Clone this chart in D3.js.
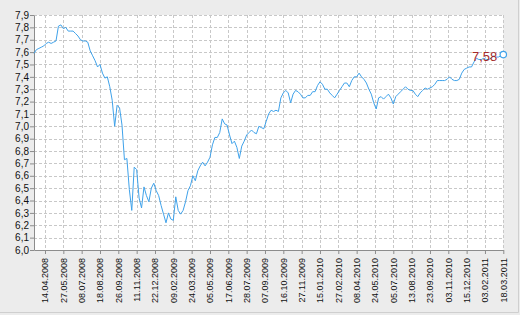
<!DOCTYPE html>
<html>
<head>
<meta charset="utf-8">
<script src="https://cdn.jsdelivr.net/npm/d3@7/dist/d3.min.js"></script>
<style>
	body { margin: 0; background: #ececec; }
	svg { display: block; font-family: "DejaVu Sans", sans-serif; }
</style>
</head>
<body>
<svg id="chart" width="520" height="315"></svg>
<script>
// trading days between two samples of the series
const sampleStep = 4;

// rate, one reading every 4 trading days (first one ~18.03.2008)
const rates = [
	7.59, 7.62, 7.63, 7.64, 7.65, 7.67, 7.68, 7.67, 7.68, 7.69,
	7.81, 7.82, 7.79, 7.80, 7.77, 7.77, 7.77, 7.75, 7.73, 7.70,
	7.69, 7.69, 7.68, 7.61, 7.57, 7.53, 7.48, 7.50, 7.43, 7.39,
	7.40, 7.32, 7.21, 7.00, 7.17, 7.15, 7.01, 6.73, 6.74, 6.49,
	6.32, 6.67, 6.65, 6.42, 6.34, 6.51, 6.44, 6.39, 6.50, 6.54,
	6.48, 6.44, 6.36, 6.29, 6.22, 6.30, 6.25, 6.24, 6.43, 6.32,
	6.29, 6.32, 6.39, 6.48, 6.52, 6.60, 6.56, 6.64, 6.68, 6.71,
	6.68, 6.71, 6.75, 6.85, 6.91, 6.91, 6.95, 7.06, 7.02, 7.01,
	6.93, 6.86, 6.88, 6.83, 6.74, 6.84, 6.88, 6.93, 6.95, 6.97,
	6.95, 6.94, 7.00, 6.99, 6.98, 7.04, 7.10, 7.13, 7.12, 7.13,
	7.12, 7.23, 7.27, 7.29, 7.27, 7.19, 7.26, 7.29, 7.28, 7.26,
	7.23, 7.23, 7.25, 7.25, 7.28, 7.28, 7.33, 7.36, 7.34, 7.30,
	7.30, 7.27, 7.25, 7.23, 7.26, 7.29, 7.32, 7.35, 7.35, 7.32,
	7.37, 7.40, 7.40, 7.43, 7.40, 7.38, 7.35, 7.30, 7.26, 7.19,
	7.14, 7.23, 7.24, 7.22, 7.24, 7.26, 7.23, 7.18, 7.24, 7.26,
	7.28, 7.30, 7.32, 7.30, 7.29, 7.29, 7.26, 7.24, 7.27, 7.29,
	7.31, 7.30, 7.31, 7.32, 7.34, 7.37, 7.37, 7.37, 7.37, 7.38,
	7.40, 7.38, 7.37, 7.37, 7.38, 7.43, 7.46, 7.47, 7.48, 7.48,
	7.52, 7.55, 7.54, 7.54, 7.55, 7.54, 7.54, 7.55, 7.57, 7.56,
	7.56, 7.57, 7.58
];

const tickLabels = [
	"14.04.2008", "27.05.2008", "08.07.2008", "18.08.2008", "26.09.2008", "11.11.2008",
	"22.12.2008", "09.02.2009", "24.03.2009", "05.05.2009", "17.06.2009", "28.07.2009",
	"07.09.2009", "16.10.2009", "27.11.2009", "15.01.2010", "27.02.2010", "08.04.2010",
	"24.05.2010", "05.07.2010", "13.08.2010", "23.09.2010", "03.11.2010", "15.12.2010",
	"03.02.2011", "18.03.2011"
];
// trading-day index of each tick label
const tickDays = [18, 48, 78, 108, 138, 168, 198, 228, 258, 288, 318, 348, 378,
	408, 438, 468, 498, 528, 558, 588, 618, 648, 678, 708, 738, 768];

const yTicks = d3.range(60, 80).map(d => d / 10);

const svg = d3.select("#chart");
const margin = {top: 15, right: 16.7, bottom: 65, left: 34};
const width = 520 - margin.left - margin.right;
const height = 315 - margin.top - margin.bottom;

// outer frame
svg.append("path")
	.attr("d", "M518.5,0 V312.5 H0")
	.attr("fill", "none")
	.attr("stroke", "#cfcfcf");

const g = svg.append("g").attr("transform", `translate(${margin.left},${margin.top})`);

const x = d3.scaleLinear().domain([0, (rates.length - 1) * sampleStep]).range([0, width]);
const y = d3.scaleLinear().domain([6.0, 7.9]).range([height, 0]);

g.append("rect").attr("width", width).attr("height", height).attr("fill", "#fff");

// grid
g.append("g").selectAll("line")
	.data(yTicks.slice(1))
	.join("line")
	.attr("x1", 0).attr("x2", width)
	.attr("y1", d => Math.round(y(d)) + 0.5).attr("y2", d => Math.round(y(d)) + 0.5)
	.attr("stroke", "#c8c8c8").attr("stroke-dasharray", "3,2");

g.append("g").selectAll("line")
	.data(tickDays)
	.join("line")
	.attr("x1", d => Math.round(x(d)) + 0.5).attr("x2", d => Math.round(x(d)) + 0.5)
	.attr("y1", 0).attr("y2", height)
	.attr("stroke", "#c8c8c8").attr("stroke-dasharray", "3,2");

// axes
const yAxis = g.append("g")
	.call(d3.axisLeft(y).tickValues(yTicks)
		.tickFormat(d => d.toFixed(1).replace(".", ","))
		.tickSize(4).tickSizeOuter(0).tickPadding(1));

const xAxis = g.append("g")
	.attr("transform", `translate(0,${height})`)
	.call(d3.axisBottom(x).tickValues(tickDays)
		.tickFormat((d, i) => tickLabels[i])
		.tickSize(4).tickSizeOuter(0));

xAxis.selectAll("text")
	.attr("transform", "rotate(-90)")
	.attr("x", -8).attr("y", 0).attr("dy", "0.33em")
	.style("text-anchor", "end");

[xAxis, yAxis].forEach(a => {
	a.select(".domain").attr("stroke", "#8c8c8c");
	a.selectAll(".tick line").attr("stroke", "#8c8c8c");
	a.selectAll("text").attr("fill", "#111").style("font-size", "9px");
});
yAxis.selectAll("text").style("font-size", "10px");

// line
const line = d3.line()
	.x((d, i) => x(i * sampleStep))
	.y(d => y(d));

g.append("path")
	.datum(rates)
	.attr("fill", "none")
	.attr("stroke", "#3fa2ea")
	.attr("stroke-width", 1)
	.attr("d", line);

// last value marker
const lastIdx = rates.length - 1;
g.append("circle")
	.attr("cx", x(lastIdx * sampleStep)).attr("cy", y(rates[lastIdx]))
	.attr("r", 3.2)
	.attr("fill", "#fff").attr("stroke", "#3fa2ea").attr("stroke-width", 1.2);

g.append("text")
	.attr("x", x(lastIdx * sampleStep) - 6).attr("y", y(rates[lastIdx]) + 6)
	.attr("text-anchor", "end")
	.attr("fill", "#a52a2a")
	.style("font-family", "'Liberation Sans', Arial, sans-serif")
	.style("font-size", "13px")
	.text(rates[lastIdx].toFixed(2).replace(".", ","));
</script>
</body>
</html>
